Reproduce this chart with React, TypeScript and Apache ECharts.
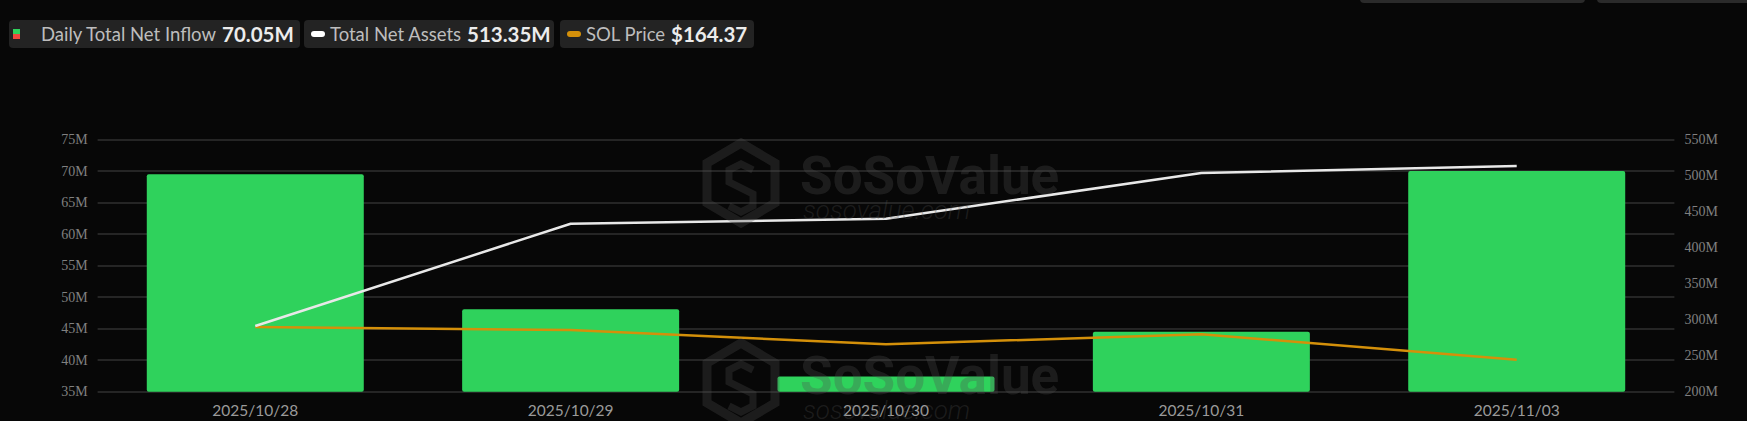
import React, { useEffect, useRef } from "react";
import * as echarts from "echarts";

// Daily figures for the SOL spot ETFs
const dates = ["2025/10/28", "2025/10/29", "2025/10/30", "2025/10/31", "2025/11/03"];
const dailyNetInflow = [69.5, 48.1, 37.4, 44.5, 70.05]; // M USD
const totalNetAssets = [291.2, 433.3, 440.3, 503.7, 513.35]; // M USD
const solPrice = [194.57, 191.8, 178.64, 187.84, 164.37]; // USD

const inflowTicks = { min: 35, max: 75, step: 5 };
const assetTicks = { min: 200, max: 550, step: 50 };

const BG = "#070707";
const GREEN = "#2fd25c";
const RED = "#f0483e";
const WHITE = "#e8e8e8";
const ORANGE = "#d4900a";
const WM = "rgba(80,80,80,0.3)";

function watermark(dy: number) {
  const hex = [
    [741, 143], [775, 163], [775, 203], [741, 223], [707, 203], [707, 163],
  ].map(([x, y]) => [x, y + dy]);
  const s = [
    [753, 170], [741, 164], [729, 170], [729, 182], [753, 194], [753, 206], [741, 212], [729, 206],
  ].map(([x, y]) => [x, y + dy]);
  return [
    { type: "polygon", z: 100, silent: true, shape: { points: hex }, style: { fill: "none", stroke: WM, lineWidth: 9, lineJoin: "miter" } },
    { type: "polyline", z: 100, silent: true, shape: { points: s }, style: { stroke: WM, lineWidth: 7, fill: "none" } },
    { type: "text", z: 100, silent: true, x: 800, y: 176 + dy, style: { text: "SoSoValue", fill: WM, font: "bold 53px Roboto", verticalAlign: "middle" } },
    { type: "text", z: 100, silent: true, x: 803, y: 210 + dy, style: { text: "sosovalue.com", fill: WM, font: "italic 300 26px Roboto", verticalAlign: "middle" } },
  ];
}

function legendBox(x: number, w: number, icon: any[], label: string, labelX: number, value: string, valueX: number) {
  return [
    { type: "rect", shape: { x, y: 20, width: w, height: 28, r: 4 }, style: { fill: "#232323" } },
    ...icon,
    { type: "text", x: labelX, y: 34, style: { text: label, fill: "#bdbdbd", font: "18.5px Lato", verticalAlign: "middle" } },
    { type: "text", x: valueX, y: 34, style: { text: value, fill: "#ececec", font: "bold 20.5px Lato", verticalAlign: "middle" } },
  ];
}

export default function App() {
  const ref = useRef<HTMLDivElement>(null);

  useEffect(() => {
    if (!ref.current) return;
    const chart = echarts.init(ref.current, undefined, { renderer: "svg" });
    const last = dates.length - 1;

    const graphic: any[] = [
      // partially visible controls at the top right
      { type: "rect", shape: { x: 1360, y: -10, width: 225, height: 13, r: 4 }, style: { fill: "#2a2a2a" } },
      { type: "rect", shape: { x: 1597, y: -10, width: 170, height: 13, r: 4 }, style: { fill: "#2a2a2a" } },
      ...legendBox(
        9, 291,
        [
          { type: "rect", shape: { x: 13, y: 29, width: 7, height: 5 }, style: { fill: GREEN } },
          { type: "rect", shape: { x: 13, y: 34, width: 7, height: 5 }, style: { fill: RED } },
        ],
        "Daily Total Net Inflow", 41, `${dailyNetInflow[last].toFixed(2)}M`, 222
      ),
      ...legendBox(
        304, 250,
        [{ type: "rect", shape: { x: 311, y: 31, width: 14, height: 6, r: 3 }, style: { fill: "#ffffff" } }],
        "Total Net Assets", 330, `${totalNetAssets[last].toFixed(2)}M`, 467
      ),
      ...legendBox(
        560, 194,
        [{ type: "rect", shape: { x: 567, y: 31, width: 14, height: 6, r: 3 }, style: { fill: ORANGE } }],
        "SOL Price", 586, `$${solPrice[last].toFixed(2)}`, 671
      ),
      ...watermark(0),
      ...watermark(200),
    ];

    chart.setOption({
      animation: false,
      backgroundColor: BG,
      graphic,
      grid: { left: 97.6, right: 72.6, top: 139.7, bottom: 29.3, containLabel: false },
      xAxis: {
        type: "category",
        data: dates,
        axisLine: { show: false },
        axisTick: { show: false },
        axisLabel: { color: "#9a9a9a", fontFamily: "Lato", fontSize: 15.5, margin: 10 },
      },
      yAxis: [
        {
          type: "value",
          position: "left",
          min: inflowTicks.min,
          max: inflowTicks.max,
          interval: inflowTicks.step,
          axisLabel: { color: "#808080", fontFamily: "Liberation Serif", fontSize: 14, margin: 10, formatter: (v: number) => `${v}M` },
          axisLine: { show: false },
          axisTick: { show: false },
          splitLine: { lineStyle: { color: "#303030", width: 1.5 } },
        },
        {
          type: "value",
          position: "right",
          min: assetTicks.min,
          max: assetTicks.max,
          interval: assetTicks.step,
          axisLabel: { color: "#808080", fontFamily: "Liberation Serif", fontSize: 14, margin: 10, formatter: (v: number) => `${v}M` },
          axisLine: { show: false },
          axisTick: { show: false },
          splitLine: { show: false },
        },
        { type: "value", show: false, min: 135, max: 367, splitLine: { show: false } },
      ],
      series: [
        {
          name: "Daily Total Net Inflow",
          type: "bar",
          yAxisIndex: 0,
          data: dailyNetInflow,
          barWidth: 217,
          itemStyle: { color: GREEN, borderRadius: [2, 2, 2, 2] },
          z: 2,
        },
        {
          name: "Total Net Assets",
          type: "line",
          yAxisIndex: 1,
          data: totalNetAssets,
          showSymbol: false,
          lineStyle: { color: WHITE, width: 2.5 },
          z: 4,
        },
        {
          name: "SOL Price",
          type: "line",
          yAxisIndex: 2,
          data: solPrice,
          showSymbol: false,
          lineStyle: { color: ORANGE, width: 2.5 },
          z: 3,
        },
      ],
    });

    return () => chart.dispose();
  }, []);

  return <div ref={ref} style={{ position: "absolute", left: 0, top: 0, width: 1747, height: 421 }} />;
}
